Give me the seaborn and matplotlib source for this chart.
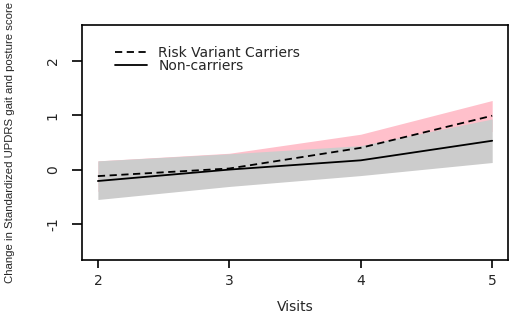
import matplotlib
matplotlib.use('Agg')
import matplotlib.pyplot as plt
import pandas as pd
import seaborn as sns

visits = [2, 3, 4, 5]
carriers_mean = [-0.12, 0.02, 0.40, 0.99]
carriers_low = [-0.40, -0.25, 0.10, 0.70]
carriers_high = [0.16, 0.30, 0.65, 1.27]
noncarriers_mean = [-0.21, 0.00, 0.17, 0.53]
noncarriers_low = [-0.55, -0.31, -0.11, 0.13]
noncarriers_high = [0.16, 0.29, 0.44, 0.93]
groups = ['Risk Variant Carriers', 'Non-carriers']

sns.set_style('ticks')
plt.rcParams['font.family'] = ['DejaVu Sans']

df = pd.DataFrame({
    'visit': visits * 2,
    'score': carriers_mean + noncarriers_mean,
    'group': [groups[0]] * 4 + [groups[1]] * 4,
})

fig = plt.figure(figsize=(5.1, 3.15), dpi=100)
ax = fig.add_axes([0.161, 0.175, 0.835, 0.746])

ax.fill_between(visits, carriers_low, carriers_high, color='#ffc0cb', linewidth=0)
ax.fill_between(visits, noncarriers_low, noncarriers_high, color='#cccccc', linewidth=0)

sns.lineplot(data=df, x='visit', y='score', style='group', style_order=groups,
             dashes={groups[0]: (4, 2.5), groups[1]: ''}, color='black',
             linewidth=1.3, ax=ax)

ax.set_xlim(1.88, 5.12)
ax.set_ylim(-1.66, 2.66)
ax.set_xticks([2, 3, 4, 5])
ax.set_yticks([-1, 0, 1, 2])
ax.set_yticklabels(['-1', '0', '1', '2'], rotation=90, va='center')
ax.tick_params(labelsize=10, width=1.2, color='black')
ax.tick_params(axis='x', length=6, pad=4)
ax.tick_params(axis='y', length=7, pad=9)
for s in ax.spines.values():
    s.set_visible(True)
    s.set_linewidth(1.2)
    s.set_color('black')

ax.set_xlabel('Visits', fontsize=10, labelpad=9)
ax.set_ylabel('Change in Standardized UPDRS gait and posture score',
              family='Liberation Sans', fontsize=8.2, labelpad=22)

leg = ax.legend(loc='upper left', bbox_to_anchor=(0.065, 0.935), frameon=False,
                fontsize=10, handlelength=2.3, labelspacing=-0.05, borderaxespad=0)

fig.savefig('out.png', dpi=100)
